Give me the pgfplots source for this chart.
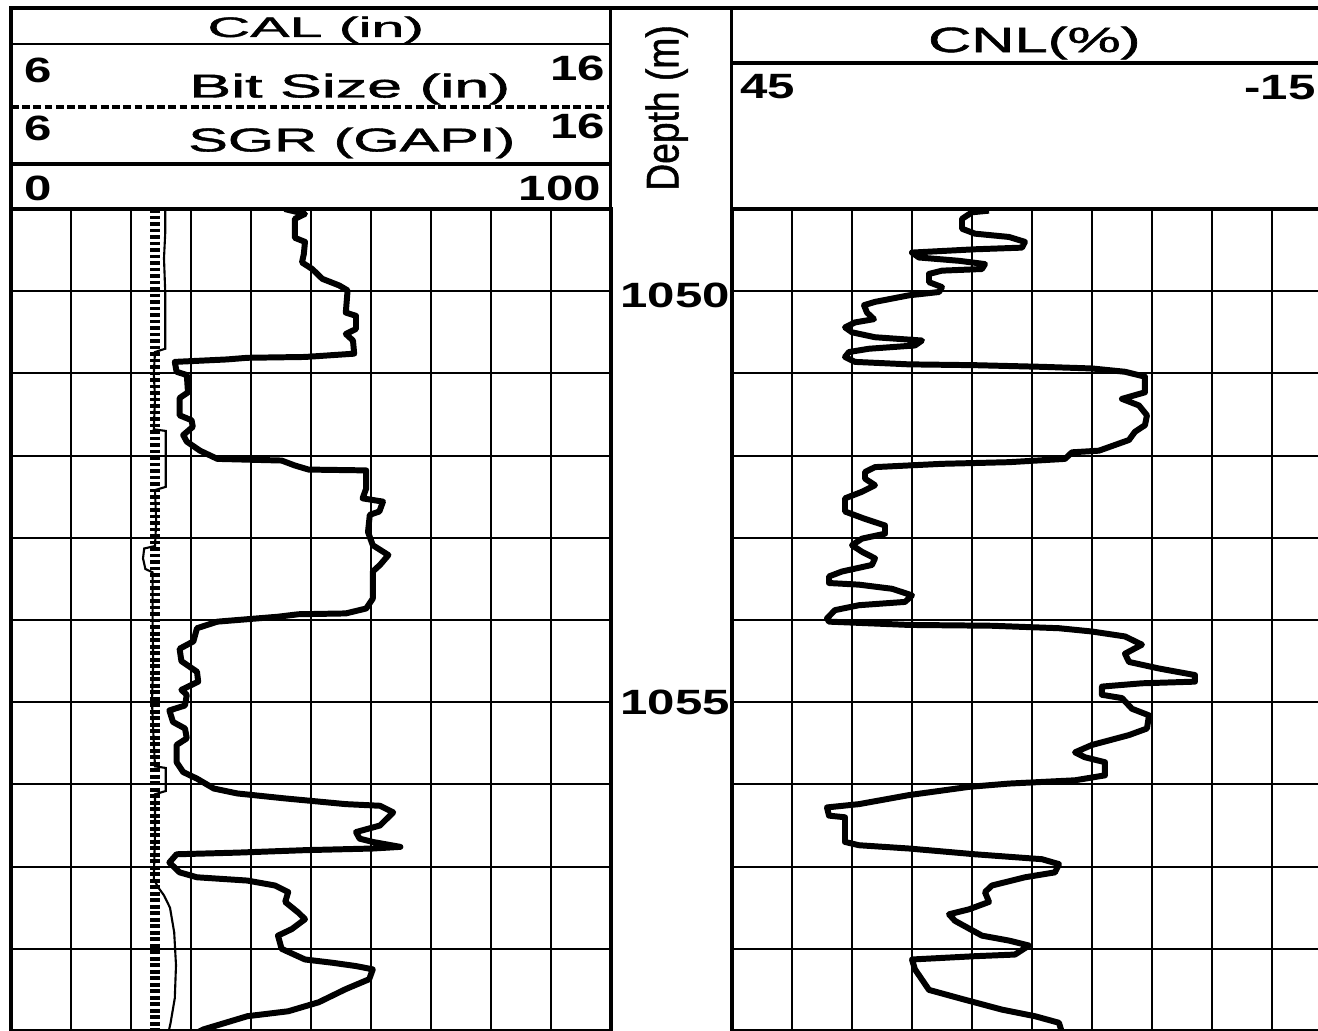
\documentclass[border=0pt]{standalone}
\usepackage{fontspec}
\setmainfont{Liberation Sans}
\newfontfamily\hfont{Liberation Sans}[FakeBold=1.2]
\usepackage{graphicx}
\usepackage{pgfplots}
\pgfplotsset{compat=1.18}

\pgfplotsset{
 logtrack/.style={
   scale only axis, width=6cm, height=8.22cm,
   ymin=1049, ymax=1059, y dir=reverse,
   ytick={1049,1050,...,1059},
   xticklabels={}, yticklabels={},
   major tick length=0pt,
   grid=major,
   major grid style={line width=0.55pt, black},
   axis line style={line width=0.9pt},
 },
 overlaytrack/.style={
   scale only axis, width=6cm, height=8.22cm,
   ymin=1049, ymax=1059, y dir=reverse,
   hide axis,
 }
}

\newcommand{\dg}[1]{{\fontsize{10}{10}\selectfont\bfseries\scalebox{1.4}[1]{#1}}}

\begin{document}
\begin{tikzpicture}
\useasboundingbox (0,0) rectangle (13.18cm,-10.31cm);

% ---------------- left track: SGR ----------------
\begin{axis}[logtrack, at={(0.11cm,-2.09cm)}, anchor=north west,
  xmin=0, xmax=100, xtick={0,10,...,100}]
\addplot[black, line width=1.7pt, line join=round] coordinates {
(45.6,1049.00) (49.0,1049.06) (47.3,1049.12) (47.3,1049.35) (49.0,1049.40)
(48.8,1049.55) (48.5,1049.65) (50.2,1049.73) (51.9,1049.85) (54.7,1049.93)
(56.1,1049.99) (55.8,1050.26) (57.5,1050.30) (57.5,1050.46) (55.8,1050.52)
(57.0,1050.60) (57.2,1050.76) (49.0,1050.80) (39.4,1050.81) (36.0,1050.83)
(27.3,1050.86) (27.6,1050.98) (29.3,1051.02) (29.5,1051.23) (28.1,1051.30)
(28.1,1051.51) (30.1,1051.57) (30.3,1051.65) (28.7,1051.75) (29.3,1051.83)
(31.5,1051.94) (34.4,1052.04) (45.1,1052.06) (47.3,1052.12) (49.6,1052.17)
(59.2,1052.18) (59.2,1052.40) (58.6,1052.52) (62.0,1052.56) (61.4,1052.68)
(59.8,1052.72) (59.5,1052.93) (60.3,1053.09) (62.9,1053.21) (61.5,1053.33)
(60.3,1053.41) (60.3,1053.74) (59.2,1053.86) (55.8,1053.92) (47.9,1053.93)
(44.5,1053.96) (34.4,1054.02) (31.0,1054.10) (30.4,1054.26) (28.1,1054.35)
(28.4,1054.50) (31.0,1054.63) (31.2,1054.75) (28.4,1054.85) (29.3,1054.91)
(29.0,1055.04) (26.4,1055.10) (27.0,1055.24) (29.0,1055.32) (29.3,1055.44)
(27.6,1055.52) (27.6,1055.73) (28.7,1055.85) (31.0,1055.93) (33.8,1056.05)
(37.7,1056.11) (45.6,1056.17) (55.8,1056.24) (61.5,1056.26) (63.7,1056.34)
(61.5,1056.50) (57.5,1056.58) (58.1,1056.66) (60.3,1056.70) (64.9,1056.76)
(60.3,1056.78) (49.0,1056.80) (37.7,1056.83) (27.6,1056.85) (26.4,1056.95)
(28.1,1057.07) (31.0,1057.13) (39.4,1057.17) (44.0,1057.23) (46.2,1057.31)
(45.7,1057.43) (47.9,1057.56) (49.0,1057.64) (46.8,1057.76) (44.5,1057.84)
(45.1,1058.00) (49.0,1058.13) (53.6,1058.17) (57.5,1058.21) (60.3,1058.25)
(59.7,1058.37) (55.8,1058.49) (51.3,1058.65) (46.2,1058.76) (39.4,1058.82)
(32.1,1058.98) (31.0,1059.02)
};
\end{axis}

% ---------------- left track: CAL and Bit Size ----------------
\begin{axis}[overlaytrack, at={(0.11cm,-2.09cm)}, anchor=north west,
  xmin=6, xmax=16]
\addplot[black, line width=2.8pt, dash pattern=on 1.1pt off 0.75pt] coordinates {
(8.4,1049.0) (8.4,1059.0)
};
\addplot[black, line width=0.6pt] coordinates {
(8.57,1049.0) (8.57,1049.3) (8.55,1049.6) (8.57,1050.0) (8.57,1050.70)
(8.40,1050.74) (8.38,1051.0) (8.40,1051.3) (8.38,1051.68) (8.58,1051.70)
(8.58,1052.38) (8.40,1052.42) (8.42,1052.8) (8.40,1053.10) (8.22,1053.13)
(8.20,1053.25) (8.24,1053.38) (8.36,1053.42) (8.36,1054.0) (8.37,1054.5)
(8.35,1055.0) (8.38,1055.5) (8.40,1055.78) (8.58,1055.80) (8.58,1056.08)
(8.40,1056.12) (8.40,1056.6) (8.38,1057.15) (8.45,1057.25) (8.55,1057.35)
(8.65,1057.5) (8.72,1057.8) (8.75,1058.2) (8.73,1058.6) (8.66,1058.9)
(8.63,1059.0)
};
\end{axis}

% ---------------- right track: CNL ----------------
\begin{axis}[logtrack, at={(7.32cm,-2.09cm)}, anchor=north west,
  xmin=-15, xmax=45, x dir=reverse, xtick={-15,-9,...,45}]
\addplot[black, line width=1.7pt, line join=round] coordinates {
(19.3,1049.02) (21.0,1049.04) (22.0,1049.12) (22.0,1049.24) (20.7,1049.30)
(17.3,1049.34) (15.7,1049.40) (16.0,1049.47) (20.7,1049.49) (27.0,1049.53)
(26.3,1049.59) (22.3,1049.63) (19.7,1049.67) (20.0,1049.73) (24.0,1049.75)
(25.3,1049.79) (25.3,1049.89) (24.0,1049.95) (24.3,1050.01) (27.3,1050.05)
(30.7,1050.13) (31.8,1050.17) (31.5,1050.26) (30.8,1050.34) (32.7,1050.38)
(33.7,1050.44) (33.0,1050.50) (30.7,1050.56) (26.0,1050.60) (26.7,1050.66)
(31.3,1050.70) (33.3,1050.74) (33.7,1050.80) (32.7,1050.86) (27.3,1050.89)
(20.7,1050.90) (14.0,1050.92) (9.0,1050.94) (5.7,1050.98) (3.7,1051.04)
(3.7,1051.23) (6.0,1051.31) (4.3,1051.39) (3.5,1051.51) (3.7,1051.63)
(4.7,1051.71) (5.3,1051.81) (8.3,1051.94) (11.0,1051.96) (11.7,1052.04)
(17.3,1052.08) (24.0,1052.10) (30.7,1052.14) (31.7,1052.20) (31.7,1052.28)
(30.7,1052.36) (32.0,1052.44) (33.7,1052.52) (33.7,1052.68) (31.7,1052.77)
(29.7,1052.85) (29.7,1052.95) (32.0,1053.01) (33.0,1053.09) (32.0,1053.17)
(30.7,1053.25) (31.0,1053.33) (34.0,1053.41) (35.3,1053.47) (35.3,1053.55)
(32.3,1053.57) (29.0,1053.62) (27.0,1053.70) (27.7,1053.78) (32.3,1053.82)
(34.7,1053.88) (35.5,1053.98) (35.3,1054.02) (27.3,1054.06) (19.0,1054.07)
(12.3,1054.10) (9.0,1054.14) (5.7,1054.20) (4.0,1054.30) (5.7,1054.41)
(5.3,1054.51) (2.3,1054.59) (-1.3,1054.67) (-1.3,1054.75) (4.0,1054.77)
(8.0,1054.81) (8.0,1054.91) (6.0,1054.95) (5.0,1055.08) (3.3,1055.16)
(3.5,1055.32) (5.3,1055.40) (9.0,1055.52) (10.7,1055.61) (9.7,1055.67)
(7.7,1055.73) (7.7,1055.89) (10.7,1055.95) (17.3,1055.99) (21.3,1056.03)
(27.3,1056.13) (32.3,1056.24) (35.5,1056.28) (35.3,1056.38) (33.7,1056.40)
(33.7,1056.70) (32.3,1056.74) (27.3,1056.78) (20.7,1056.85) (14.0,1056.91)
(12.3,1056.97) (12.7,1057.07) (15.7,1057.13) (19.0,1057.23) (19.7,1057.31)
(19.3,1057.43) (21.3,1057.52) (23.3,1057.58) (22.7,1057.66) (20.0,1057.84)
(17.3,1057.90) (15.3,1057.96) (16.7,1058.07) (20.7,1058.09) (27.0,1058.13)
(26.7,1058.25) (25.3,1058.50) (22.0,1058.61) (18.0,1058.74) (14.7,1058.82)
(12.3,1058.90) (12.0,1059.02)
};
\end{axis}

% ---------------- depth column ----------------
\begin{axis}[overlaytrack, at={(6.11cm,-2.09cm)}, anchor=north west,
  width=1.21cm, xmin=0, xmax=1, clip=false]
\node[inner sep=0] at (axis cs:0.53,1050.05) {\dg{1050}};
\node[inner sep=0] at (axis cs:0.53,1055.0) {\dg{1055}};
\end{axis}

% ---------------- headers and frames ----------------
\begin{scope}[x=0.01cm, y=-0.01cm]
  % left header
  \draw[line width=0.9pt] (11,8) rectangle (611,209);
  \draw[line width=0.7pt] (11,44) -- (611,44);
  \draw[line width=1.1pt, dash pattern=on 2.2pt off 1pt] (11,107) -- (611,107);
  \draw[line width=1.3pt] (11,164) -- (611,164);
  % depth column
  \draw[line width=0.9pt] (611,8) -- (732,8);
  \draw[line width=0.9pt] (611,8) -- (611,1031);
  \draw[line width=0.9pt] (732,8) -- (732,1031);
  % right header
  \draw[line width=0.9pt] (732,8) rectangle (1332,209);
  \draw[line width=1.3pt] (732,63) -- (1332,63);

  % left header text
  \node[inner sep=0, anchor=base] at (316,37) {\hfont\fontsize{8}{8}\selectfont\scalebox{2.1}[1]{CAL (in)}};
  \node[inner sep=0, anchor=west] at (24,70) {\dg{6}};
  \node[inner sep=0, anchor=east] at (606,68) {\dg{16}};
  \node[inner sep=0] at (350,89) {\hfont\fontsize{9.4}{9.4}\selectfont\scalebox{1.9}[1]{Bit Size (in)}};
  \node[inner sep=0, anchor=west] at (24,128) {\dg{6}};
  \node[inner sep=0, anchor=east] at (606,126) {\dg{16}};
  \node[inner sep=0] at (352,143) {\hfont\fontsize{9.4}{9.4}\selectfont\scalebox{1.8}[1]{SGR (GAPI)}};
  \node[inner sep=0, anchor=west] at (24,189) {\dg{0}};
  \node[inner sep=0, anchor=east] at (602,189) {\dg{100}};

  % depth header
  \node[inner sep=0, rotate=90] at (667,108) {\hfont\fontsize{10}{10}\selectfont\scalebox{1.06}[1.3]{Depth (m)}};

  % right header text
  \node[inner sep=0] at (1035,43) {\hfont\fontsize{10}{10}\selectfont\scalebox{1.7}[1]{CNL(\%)}};
  \node[inner sep=0, anchor=west] at (740,87) {\dg{45}};
  \node[inner sep=0, anchor=east] at (1317,88) {\dg{-15}};
\end{scope}
\end{tikzpicture}
\end{document}
